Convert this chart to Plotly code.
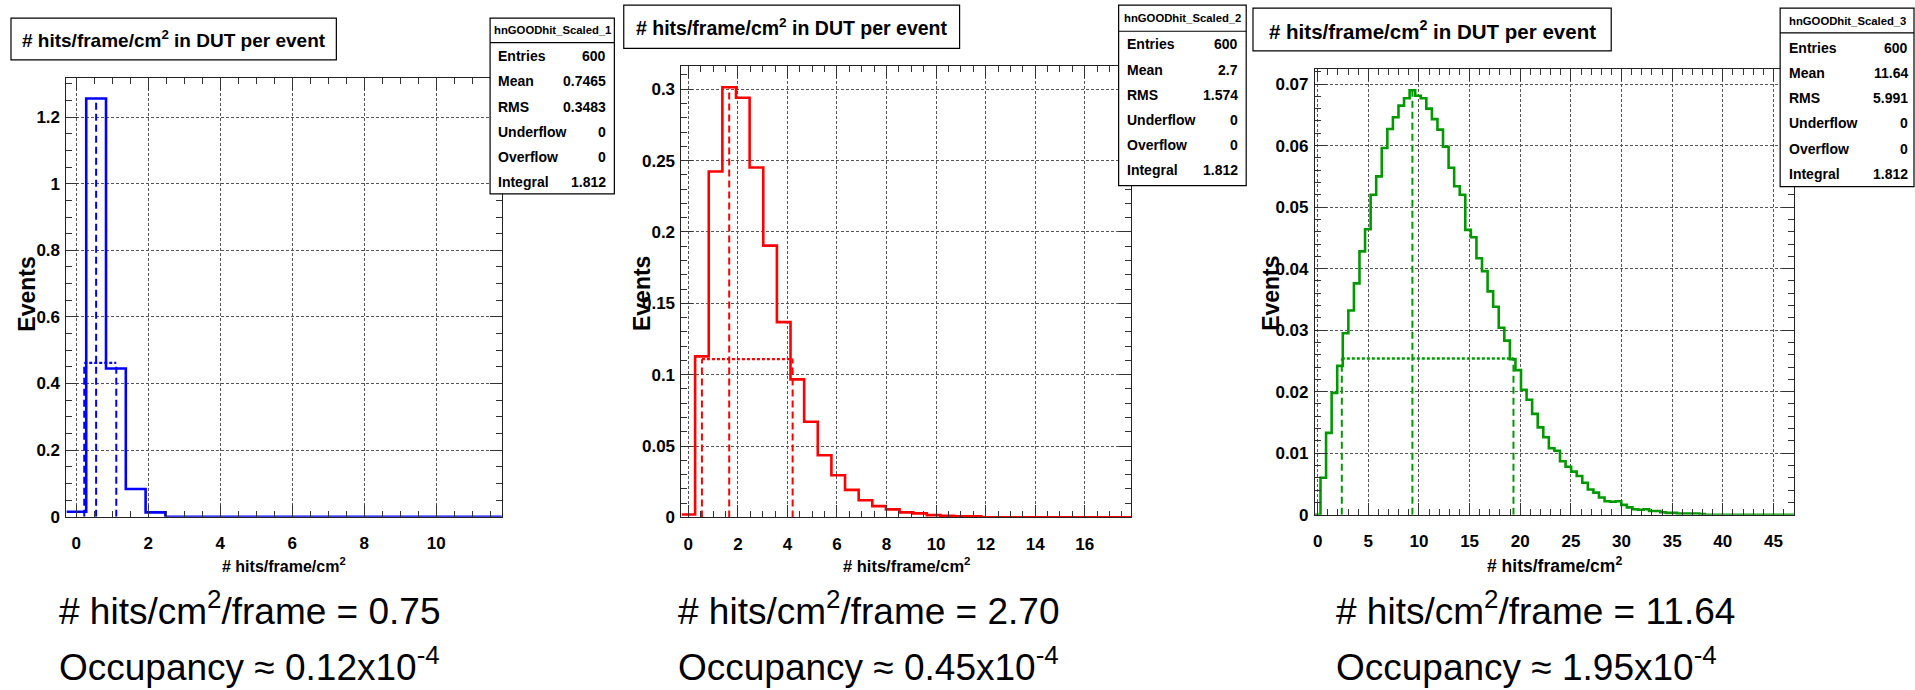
import plotly.graph_objects as go

W, H = 1915, 690

# ---- data -------------------------------------------------------------
bin_width = 0.55
n_bins = [22, 33, 86]

hist_blue = [0.015, 1.256, 0.445, 0.083, 0.013]

hist_red = [0.0020, 0.1128, 0.2424, 0.3014, 0.2940, 0.2452, 0.1904, 0.1368, 0.0967, 0.0670,
            0.0435, 0.0295, 0.0193, 0.0120, 0.0079, 0.0056, 0.0035, 0.0028, 0.0016, 0.0012,
            0.0008, 0.0008]

hist_green = [0.0000, 0.0060, 0.0133, 0.0198, 0.0242, 0.0295, 0.0332, 0.0376, 0.0428, 0.0464,
              0.0520, 0.0550, 0.0596, 0.0627, 0.0646, 0.0665, 0.0677, 0.0690, 0.0681, 0.0677,
              0.0660, 0.0643, 0.0626, 0.0598, 0.0564, 0.0534, 0.0520, 0.0463, 0.0451, 0.0417,
              0.0396, 0.0363, 0.0338, 0.0304, 0.0283, 0.0253, 0.0235, 0.0203, 0.0187, 0.0164,
              0.0142, 0.0126, 0.0108, 0.0104, 0.0087, 0.0078, 0.0070, 0.0063, 0.0052, 0.0041,
              0.0036, 0.0028, 0.0022, 0.0021, 0.0022, 0.0016, 0.0012, 0.0009, 0.0008, 0.0009,
              0.0006, 0.0006, 0.0004, 0.0003, 0.0003, 0.0002, 0.0002, 0.0002, 0.0002, 0.0001]

# x positions where each distribution drops to peak/e
width_lo = [0.22, 0.55, 2.38]
width_hi = [1.11, 4.21, 19.33]

hist_names = ["hnGOODhit_Scaled_1", "hnGOODhit_Scaled_2", "hnGOODhit_Scaled_3"]
stat_labels = ["Entries", "Mean", "RMS", "Underflow", "Overflow", "Integral"]
stat_values = [
    ["600", "0.7465", "0.3483", "0", "0", "1.812"],
    ["600", "2.7", "1.574", "0", "0", "1.812"],
    ["600", "11.64", "5.991", "0", "0", "1.812"],
]
hits_text = ["0.75", "2.70", "11.64"]
occupancy_text = ["0.12", "0.45", "1.95"]

x_dtick = [2, 2, 5]
x_minor = [0.5, 0.5, 1]
y_dtick = [0.2, 0.05, 0.01]
y_minor = [0.05, 0.01, 0.002]

# ---- styling ----------------------------------------------------------
colors = ["#0000ff", "#ff0000", "#009a00"]
ROOT_FONT = "Liberation Sans, Arial"
SLIDE_FONT = "Liberation Sans, Arial"

# plot frames in pixels: left, right, top, bottom
frames = [(64.5, 500.4, 78.7, 524.3), (680.2, 1130.4, 66.7, 525.0), (1314.3, 1793.8, 70.0, 522.3)]
# title boxes: left, right, top, bottom
title_boxes = [(9.0, 334.7, 18.3, 60.7), (622.4, 958.6, 5.3, 49.0), (1252.3, 1610.9, 8.3, 51.7)]
title_sizes = [19, 19.5, 20.5]
xtitle_sizes = [16, 16.5, 17.5]
# stat boxes: left, right, top, bottom, separator, header y, first row y, label x, value x
stat_boxes = [
    (488.6, 613.0, 18.3, 196.7, 43.3, 30.0, 57.0, 494.7, 607.0),
    (1117.8, 1245.5, 5.3, 188.3, 31.7, 18.0, 45.0, 1123.9, 1239.0),
    (1780.0, 1914.0, 8.3, 189.3, 33.3, 21.0, 48.3, 1787.2, 1910.4),
]
row_step = 25.6
events_x = [25.0, 640.0, 1270.5]
bottom_text_x = [55.5, 675.0, 1333.5]


def px(x):
    return x / W


def py(y):
    return 1 - y / H


fig = go.Figure()
layout_axes = {}
annotations = []
shapes = []

for i, values in enumerate([hist_blue, hist_red, hist_green]):
    n = n_bins[i]
    vals = list(values) + [0.0] * (n - len(values))
    x0 = -bin_width / 2
    edges = [x0 + k * bin_width for k in range(n + 1)]
    xa = "x" if i == 0 else f"x{i + 1}"
    ya = "y" if i == 0 else f"y{i + 1}"
    col = colors[i]

    # histogram outline
    fig.add_trace(go.Scatter(
        x=edges, y=vals + [vals[-1]], mode="lines", line=dict(color=col, width=2.6, shape="hv"),
        xaxis=xa, yaxis=ya, cliponaxis=False, showlegend=False, hoverinfo="skip"))

    peak_i = max(range(n), key=lambda k: vals[k])
    peak_x = peak_i * bin_width
    peak_y = vals[peak_i]
    level = peak_y / 2.718281828

    # peak marker and peak/e width markers
    fig.add_trace(go.Scatter(x=[peak_x, peak_x], y=[0, peak_y], mode="lines",
                             line=dict(color=col, width=2, dash="7px,4px"),
                             xaxis=xa, yaxis=ya, showlegend=False, hoverinfo="skip"))
    for xv in (width_lo[i], width_hi[i]):
        fig.add_trace(go.Scatter(x=[xv, xv], y=[0, level], mode="lines",
                                 line=dict(color=col, width=2, dash="7px,4px"),
                                 xaxis=xa, yaxis=ya, showlegend=False, hoverinfo="skip"))
    fig.add_trace(go.Scatter(x=[width_lo[i], width_hi[i]], y=[level, level], mode="lines",
                             line=dict(color=col, width=2.4, dash="3px,2px"),
                             xaxis=xa, yaxis=ya, showlegend=False, hoverinfo="skip"))

    l, r, t, b = frames[i]
    common = dict(
        showline=True, linecolor="#222", linewidth=1, mirror="allticks",
        ticks="inside", ticklen=12, tickcolor="#333", tickwidth=1,
        showgrid=True, gridcolor="#555", gridwidth=1, griddash="3px,2px",
        zeroline=False,
        tickfont=dict(family=ROOT_FONT, size=17, color="black", weight="bold"),
    )
    layout_axes["xaxis" if i == 0 else f"xaxis{i + 1}"] = dict(
        domain=[px(l), px(r)], anchor=ya,
        range=[edges[0], edges[-1]], dtick=x_dtick[i], tick0=0,
        minor=dict(dtick=x_minor[i], ticks="inside", ticklen=6, tickcolor="#333", showgrid=False),
        ticklabelstandoff=11, **common)
    layout_axes["yaxis" if i == 0 else f"yaxis{i + 1}"] = dict(
        domain=[py(b), py(t)], anchor=xa,
        range=[0, 1.05 * peak_y], dtick=y_dtick[i], tick0=0,
        minor=dict(dtick=y_minor[i], ticks="inside", ticklen=6, tickcolor="#333", showgrid=False),
        ticklabelstandoff=2, **common)

    # axis titles
    annotations.append(dict(
        x=px((l + r) / 2), y=py(573), xref="paper", yref="paper", showarrow=False,
        xanchor="center", yanchor="middle", text="# hits/frame/cm<sup>2</sup>",
        font=dict(family=ROOT_FONT, size=xtitle_sizes[i], color="black", weight="bold")))
    annotations.append(dict(
        x=px(events_x[i]), y=py(298), xref="paper", yref="paper", showarrow=False,
        xanchor="center", yanchor="middle", text="Events", textangle=-90,
        font=dict(family=ROOT_FONT, size=23, color="black", weight="bold")))

    # title box
    tl, tr, tt, tb = title_boxes[i]
    shapes.append(dict(type="rect", xref="paper", yref="paper", x0=px(tl), x1=px(tr),
                       y0=py(tb), y1=py(tt), fillcolor="white", line=dict(color="black", width=1.2),
                       layer="above"))
    annotations.append(dict(
        x=px((tl + tr) / 2), y=py((tt + tb) / 2), xref="paper", yref="paper", showarrow=False,
        xanchor="center", yanchor="middle", text="# hits/frame/cm<sup>2</sup> in DUT per event",
        font=dict(family=ROOT_FONT, size=title_sizes[i], color="black", weight="bold")))

    # statistics box
    sl, sr, st, sb, ssep, shy, srow, slx, svx = stat_boxes[i]
    shapes.append(dict(type="rect", xref="paper", yref="paper", x0=px(sl), x1=px(sr),
                       y0=py(sb), y1=py(st), fillcolor="white", line=dict(color="black", width=1.2),
                       layer="above"))
    shapes.append(dict(type="line", xref="paper", yref="paper", x0=px(sl), x1=px(sr),
                       y0=py(ssep), y1=py(ssep), line=dict(color="black", width=1.2), layer="above"))
    annotations.append(dict(
        x=px((sl + sr) / 2), y=py(shy), xref="paper", yref="paper", showarrow=False,
        xanchor="center", yanchor="middle", text=hist_names[i],
        font=dict(family=ROOT_FONT, size=11.3, color="black", weight="bold")))
    for k, lab in enumerate(stat_labels):
        yy = py(srow + k * row_step)
        annotations.append(dict(x=px(slx), y=yy, xref="paper", yref="paper", showarrow=False,
                                xanchor="left", yanchor="middle", text=lab,
                                font=dict(family=ROOT_FONT, size=14, color="black", weight="bold")))
        annotations.append(dict(x=px(svx), y=yy, xref="paper", yref="paper", showarrow=False,
                                xanchor="right", yanchor="middle", text=stat_values[i][k],
                                font=dict(family=ROOT_FONT, size=14, color="black", weight="bold")))

    # summary lines under each histogram
    annotations.append(dict(
        x=px(bottom_text_x[i]), y=py(617), xref="paper", yref="paper", showarrow=False,
        xanchor="left", yanchor="middle",
        text=f"# hits/cm<sup>2</sup>/frame = {hits_text[i]}",
        font=dict(family=SLIDE_FONT, size=37, color="black")))
    annotations.append(dict(
        x=px(bottom_text_x[i]), y=py(674), xref="paper", yref="paper", showarrow=False,
        xanchor="left", yanchor="middle",
        text=f"Occupancy \u2248 {occupancy_text[i]}x10<sup>-4</sup>",
        font=dict(family=SLIDE_FONT, size=37, color="black")))

fig.update_layout(
    width=W, height=H, margin=dict(l=0, r=0, t=0, b=0),
    paper_bgcolor="white", plot_bgcolor="white",
    showlegend=False, annotations=annotations, shapes=shapes, **layout_axes)

fig.write_html("out.html")
